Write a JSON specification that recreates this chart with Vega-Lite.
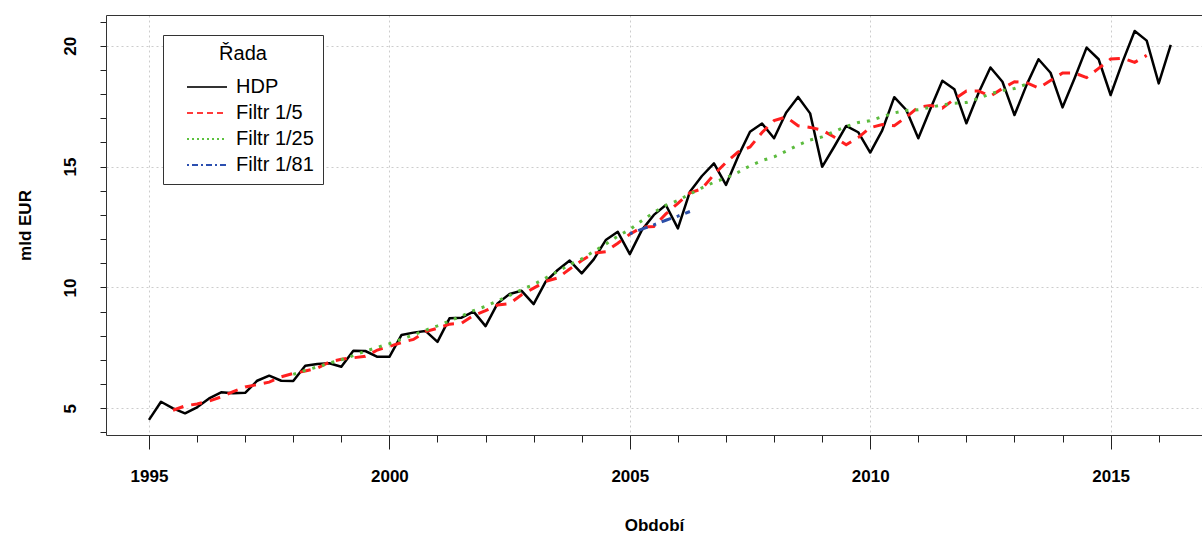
{
  "$schema": "https://vega.github.io/schema/vega-lite/v6.json",
  "width": 1096,
  "height": 420,
  "autosize": "none",
  "padding": {"left": 106, "top": 15, "right": 0, "bottom": 98},
  "config": {
    "font": "Liberation Sans",
    "view": {"stroke": null},
    "axis": {"labelColor": "#000", "titleColor": "#000", "domainColor": "#333", "tickColor": "#222", "labelOverlap": false}
  },
  "data": {
    "values": [
      {"rada": "HDP", "obdobi": 1995, "hodnota": 4.52},
      {"rada": "HDP", "obdobi": 1995.25, "hodnota": 5.27},
      {"rada": "HDP", "obdobi": 1995.5, "hodnota": 5.0},
      {"rada": "HDP", "obdobi": 1995.75, "hodnota": 4.79},
      {"rada": "HDP", "obdobi": 1996, "hodnota": 5.04},
      {"rada": "HDP", "obdobi": 1996.25, "hodnota": 5.41},
      {"rada": "HDP", "obdobi": 1996.5, "hodnota": 5.66},
      {"rada": "HDP", "obdobi": 1996.75, "hodnota": 5.62},
      {"rada": "HDP", "obdobi": 1997, "hodnota": 5.64},
      {"rada": "HDP", "obdobi": 1997.25, "hodnota": 6.14},
      {"rada": "HDP", "obdobi": 1997.5, "hodnota": 6.35},
      {"rada": "HDP", "obdobi": 1997.75, "hodnota": 6.14},
      {"rada": "HDP", "obdobi": 1998, "hodnota": 6.13},
      {"rada": "HDP", "obdobi": 1998.25, "hodnota": 6.76},
      {"rada": "HDP", "obdobi": 1998.5, "hodnota": 6.83},
      {"rada": "HDP", "obdobi": 1998.75, "hodnota": 6.86},
      {"rada": "HDP", "obdobi": 1999, "hodnota": 6.72},
      {"rada": "HDP", "obdobi": 1999.25, "hodnota": 7.38},
      {"rada": "HDP", "obdobi": 1999.5, "hodnota": 7.37},
      {"rada": "HDP", "obdobi": 1999.75, "hodnota": 7.13},
      {"rada": "HDP", "obdobi": 2000, "hodnota": 7.13},
      {"rada": "HDP", "obdobi": 2000.25, "hodnota": 8.03},
      {"rada": "HDP", "obdobi": 2000.5, "hodnota": 8.13},
      {"rada": "HDP", "obdobi": 2000.75, "hodnota": 8.2},
      {"rada": "HDP", "obdobi": 2001, "hodnota": 7.75},
      {"rada": "HDP", "obdobi": 2001.25, "hodnota": 8.72},
      {"rada": "HDP", "obdobi": 2001.5, "hodnota": 8.75},
      {"rada": "HDP", "obdobi": 2001.75, "hodnota": 9.0},
      {"rada": "HDP", "obdobi": 2002, "hodnota": 8.4},
      {"rada": "HDP", "obdobi": 2002.25, "hodnota": 9.34},
      {"rada": "HDP", "obdobi": 2002.5, "hodnota": 9.73},
      {"rada": "HDP", "obdobi": 2002.75, "hodnota": 9.86},
      {"rada": "HDP", "obdobi": 2003, "hodnota": 9.31},
      {"rada": "HDP", "obdobi": 2003.25, "hodnota": 10.24},
      {"rada": "HDP", "obdobi": 2003.5, "hodnota": 10.72},
      {"rada": "HDP", "obdobi": 2003.75, "hodnota": 11.11},
      {"rada": "HDP", "obdobi": 2004, "hodnota": 10.58},
      {"rada": "HDP", "obdobi": 2004.25, "hodnota": 11.16},
      {"rada": "HDP", "obdobi": 2004.5, "hodnota": 11.96},
      {"rada": "HDP", "obdobi": 2004.75, "hodnota": 12.3},
      {"rada": "HDP", "obdobi": 2005, "hodnota": 11.38},
      {"rada": "HDP", "obdobi": 2005.25, "hodnota": 12.37},
      {"rada": "HDP", "obdobi": 2005.5, "hodnota": 13.0},
      {"rada": "HDP", "obdobi": 2005.75, "hodnota": 13.41},
      {"rada": "HDP", "obdobi": 2006, "hodnota": 12.44},
      {"rada": "HDP", "obdobi": 2006.25, "hodnota": 13.96},
      {"rada": "HDP", "obdobi": 2006.5, "hodnota": 14.61},
      {"rada": "HDP", "obdobi": 2006.75, "hodnota": 15.13},
      {"rada": "HDP", "obdobi": 2007, "hodnota": 14.24},
      {"rada": "HDP", "obdobi": 2007.25, "hodnota": 15.41},
      {"rada": "HDP", "obdobi": 2007.5, "hodnota": 16.44},
      {"rada": "HDP", "obdobi": 2007.75, "hodnota": 16.78},
      {"rada": "HDP", "obdobi": 2008, "hodnota": 16.17},
      {"rada": "HDP", "obdobi": 2008.25, "hodnota": 17.23},
      {"rada": "HDP", "obdobi": 2008.5, "hodnota": 17.88},
      {"rada": "HDP", "obdobi": 2008.75, "hodnota": 17.2},
      {"rada": "HDP", "obdobi": 2009, "hodnota": 14.99},
      {"rada": "HDP", "obdobi": 2009.25, "hodnota": 15.82},
      {"rada": "HDP", "obdobi": 2009.5, "hodnota": 16.68},
      {"rada": "HDP", "obdobi": 2009.75, "hodnota": 16.42},
      {"rada": "HDP", "obdobi": 2010, "hodnota": 15.58},
      {"rada": "HDP", "obdobi": 2010.25, "hodnota": 16.5},
      {"rada": "HDP", "obdobi": 2010.5, "hodnota": 17.87},
      {"rada": "HDP", "obdobi": 2010.75, "hodnota": 17.34},
      {"rada": "HDP", "obdobi": 2011, "hodnota": 16.17},
      {"rada": "HDP", "obdobi": 2011.25, "hodnota": 17.38},
      {"rada": "HDP", "obdobi": 2011.5, "hodnota": 18.55},
      {"rada": "HDP", "obdobi": 2011.75, "hodnota": 18.2},
      {"rada": "HDP", "obdobi": 2012, "hodnota": 16.79},
      {"rada": "HDP", "obdobi": 2012.25, "hodnota": 18.03},
      {"rada": "HDP", "obdobi": 2012.5, "hodnota": 19.1},
      {"rada": "HDP", "obdobi": 2012.75, "hodnota": 18.51},
      {"rada": "HDP", "obdobi": 2013, "hodnota": 17.13},
      {"rada": "HDP", "obdobi": 2013.25, "hodnota": 18.37},
      {"rada": "HDP", "obdobi": 2013.5, "hodnota": 19.44},
      {"rada": "HDP", "obdobi": 2013.75, "hodnota": 18.88},
      {"rada": "HDP", "obdobi": 2014, "hodnota": 17.45},
      {"rada": "HDP", "obdobi": 2014.25, "hodnota": 18.65},
      {"rada": "HDP", "obdobi": 2014.5, "hodnota": 19.92},
      {"rada": "HDP", "obdobi": 2014.75, "hodnota": 19.44},
      {"rada": "HDP", "obdobi": 2015, "hodnota": 17.96},
      {"rada": "HDP", "obdobi": 2015.25, "hodnota": 19.34},
      {"rada": "HDP", "obdobi": 2015.5, "hodnota": 20.61},
      {"rada": "HDP", "obdobi": 2015.75, "hodnota": 20.21},
      {"rada": "HDP", "obdobi": 2016, "hodnota": 18.44},
      {"rada": "HDP", "obdobi": 2016.25, "hodnota": 20.03},

      {"rada": "Filtr 1/5", "obdobi": 1995.5, "hodnota": 4.92},
      {"rada": "Filtr 1/5", "obdobi": 1995.75, "hodnota": 5.1},
      {"rada": "Filtr 1/5", "obdobi": 1996, "hodnota": 5.18},
      {"rada": "Filtr 1/5", "obdobi": 1996.25, "hodnota": 5.3},
      {"rada": "Filtr 1/5", "obdobi": 1996.5, "hodnota": 5.47},
      {"rada": "Filtr 1/5", "obdobi": 1996.75, "hodnota": 5.69},
      {"rada": "Filtr 1/5", "obdobi": 1997, "hodnota": 5.88},
      {"rada": "Filtr 1/5", "obdobi": 1997.25, "hodnota": 5.98},
      {"rada": "Filtr 1/5", "obdobi": 1997.5, "hodnota": 6.08},
      {"rada": "Filtr 1/5", "obdobi": 1997.75, "hodnota": 6.3},
      {"rada": "Filtr 1/5", "obdobi": 1998, "hodnota": 6.44},
      {"rada": "Filtr 1/5", "obdobi": 1998.25, "hodnota": 6.54},
      {"rada": "Filtr 1/5", "obdobi": 1998.5, "hodnota": 6.66},
      {"rada": "Filtr 1/5", "obdobi": 1998.75, "hodnota": 6.91},
      {"rada": "Filtr 1/5", "obdobi": 1999, "hodnota": 7.03},
      {"rada": "Filtr 1/5", "obdobi": 1999.25, "hodnota": 7.09},
      {"rada": "Filtr 1/5", "obdobi": 1999.5, "hodnota": 7.15},
      {"rada": "Filtr 1/5", "obdobi": 1999.75, "hodnota": 7.41},
      {"rada": "Filtr 1/5", "obdobi": 2000, "hodnota": 7.56},
      {"rada": "Filtr 1/5", "obdobi": 2000.25, "hodnota": 7.72},
      {"rada": "Filtr 1/5", "obdobi": 2000.5, "hodnota": 7.85},
      {"rada": "Filtr 1/5", "obdobi": 2000.75, "hodnota": 8.17},
      {"rada": "Filtr 1/5", "obdobi": 2001, "hodnota": 8.31},
      {"rada": "Filtr 1/5", "obdobi": 2001.25, "hodnota": 8.48},
      {"rada": "Filtr 1/5", "obdobi": 2001.5, "hodnota": 8.52},
      {"rada": "Filtr 1/5", "obdobi": 2001.75, "hodnota": 8.84},
      {"rada": "Filtr 1/5", "obdobi": 2002, "hodnota": 9.04},
      {"rada": "Filtr 1/5", "obdobi": 2002.25, "hodnota": 9.27},
      {"rada": "Filtr 1/5", "obdobi": 2002.5, "hodnota": 9.33},
      {"rada": "Filtr 1/5", "obdobi": 2002.75, "hodnota": 9.7},
      {"rada": "Filtr 1/5", "obdobi": 2003, "hodnota": 9.97},
      {"rada": "Filtr 1/5", "obdobi": 2003.25, "hodnota": 10.25},
      {"rada": "Filtr 1/5", "obdobi": 2003.5, "hodnota": 10.39},
      {"rada": "Filtr 1/5", "obdobi": 2003.75, "hodnota": 10.76},
      {"rada": "Filtr 1/5", "obdobi": 2004, "hodnota": 11.11},
      {"rada": "Filtr 1/5", "obdobi": 2004.25, "hodnota": 11.42},
      {"rada": "Filtr 1/5", "obdobi": 2004.5, "hodnota": 11.48},
      {"rada": "Filtr 1/5", "obdobi": 2004.75, "hodnota": 11.83},
      {"rada": "Filtr 1/5", "obdobi": 2005, "hodnota": 12.2},
      {"rada": "Filtr 1/5", "obdobi": 2005.25, "hodnota": 12.49},
      {"rada": "Filtr 1/5", "obdobi": 2005.5, "hodnota": 12.52},
      {"rada": "Filtr 1/5", "obdobi": 2005.75, "hodnota": 13.04},
      {"rada": "Filtr 1/5", "obdobi": 2006, "hodnota": 13.48},
      {"rada": "Filtr 1/5", "obdobi": 2006.25, "hodnota": 13.91},
      {"rada": "Filtr 1/5", "obdobi": 2006.5, "hodnota": 14.08},
      {"rada": "Filtr 1/5", "obdobi": 2006.75, "hodnota": 14.67},
      {"rada": "Filtr 1/5", "obdobi": 2007, "hodnota": 15.17},
      {"rada": "Filtr 1/5", "obdobi": 2007.25, "hodnota": 15.6},
      {"rada": "Filtr 1/5", "obdobi": 2007.5, "hodnota": 15.81},
      {"rada": "Filtr 1/5", "obdobi": 2007.75, "hodnota": 16.41},
      {"rada": "Filtr 1/5", "obdobi": 2008, "hodnota": 16.9},
      {"rada": "Filtr 1/5", "obdobi": 2008.25, "hodnota": 17.05},
      {"rada": "Filtr 1/5", "obdobi": 2008.5, "hodnota": 16.69},
      {"rada": "Filtr 1/5", "obdobi": 2008.75, "hodnota": 16.62},
      {"rada": "Filtr 1/5", "obdobi": 2009, "hodnota": 16.51},
      {"rada": "Filtr 1/5", "obdobi": 2009.25, "hodnota": 16.22},
      {"rada": "Filtr 1/5", "obdobi": 2009.5, "hodnota": 15.9},
      {"rada": "Filtr 1/5", "obdobi": 2009.75, "hodnota": 16.2},
      {"rada": "Filtr 1/5", "obdobi": 2010, "hodnota": 16.61},
      {"rada": "Filtr 1/5", "obdobi": 2010.25, "hodnota": 16.74},
      {"rada": "Filtr 1/5", "obdobi": 2010.5, "hodnota": 16.69},
      {"rada": "Filtr 1/5", "obdobi": 2010.75, "hodnota": 17.05},
      {"rada": "Filtr 1/5", "obdobi": 2011, "hodnota": 17.46},
      {"rada": "Filtr 1/5", "obdobi": 2011.25, "hodnota": 17.53},
      {"rada": "Filtr 1/5", "obdobi": 2011.5, "hodnota": 17.42},
      {"rada": "Filtr 1/5", "obdobi": 2011.75, "hodnota": 17.79},
      {"rada": "Filtr 1/5", "obdobi": 2012, "hodnota": 18.13},
      {"rada": "Filtr 1/5", "obdobi": 2012.25, "hodnota": 18.13},
      {"rada": "Filtr 1/5", "obdobi": 2012.5, "hodnota": 17.91},
      {"rada": "Filtr 1/5", "obdobi": 2012.75, "hodnota": 18.23},
      {"rada": "Filtr 1/5", "obdobi": 2013, "hodnota": 18.51},
      {"rada": "Filtr 1/5", "obdobi": 2013.25, "hodnota": 18.47},
      {"rada": "Filtr 1/5", "obdobi": 2013.5, "hodnota": 18.25},
      {"rada": "Filtr 1/5", "obdobi": 2013.75, "hodnota": 18.56},
      {"rada": "Filtr 1/5", "obdobi": 2014, "hodnota": 18.87},
      {"rada": "Filtr 1/5", "obdobi": 2014.25, "hodnota": 18.87},
      {"rada": "Filtr 1/5", "obdobi": 2014.5, "hodnota": 18.68},
      {"rada": "Filtr 1/5", "obdobi": 2014.75, "hodnota": 19.06},
      {"rada": "Filtr 1/5", "obdobi": 2015, "hodnota": 19.45},
      {"rada": "Filtr 1/5", "obdobi": 2015.25, "hodnota": 19.48},
      {"rada": "Filtr 1/5", "obdobi": 2015.5, "hodnota": 19.31},
      {"rada": "Filtr 1/5", "obdobi": 2015.75, "hodnota": 19.6},

      {"rada": "Filtr 1/25", "obdobi": 1998, "hodnota": 6.4},
      {"rada": "Filtr 1/25", "obdobi": 1998.25, "hodnota": 6.57},
      {"rada": "Filtr 1/25", "obdobi": 1998.5, "hodnota": 6.71},
      {"rada": "Filtr 1/25", "obdobi": 1998.75, "hodnota": 6.87},
      {"rada": "Filtr 1/25", "obdobi": 1999, "hodnota": 7.01},
      {"rada": "Filtr 1/25", "obdobi": 1999.25, "hodnota": 7.18},
      {"rada": "Filtr 1/25", "obdobi": 1999.5, "hodnota": 7.36},
      {"rada": "Filtr 1/25", "obdobi": 1999.75, "hodnota": 7.52},
      {"rada": "Filtr 1/25", "obdobi": 2000, "hodnota": 7.67},
      {"rada": "Filtr 1/25", "obdobi": 2000.25, "hodnota": 7.86},
      {"rada": "Filtr 1/25", "obdobi": 2000.5, "hodnota": 8.04},
      {"rada": "Filtr 1/25", "obdobi": 2000.75, "hodnota": 8.23},
      {"rada": "Filtr 1/25", "obdobi": 2001, "hodnota": 8.41},
      {"rada": "Filtr 1/25", "obdobi": 2001.25, "hodnota": 8.61},
      {"rada": "Filtr 1/25", "obdobi": 2001.5, "hodnota": 8.82},
      {"rada": "Filtr 1/25", "obdobi": 2001.75, "hodnota": 9.04},
      {"rada": "Filtr 1/25", "obdobi": 2002, "hodnota": 9.22},
      {"rada": "Filtr 1/25", "obdobi": 2002.25, "hodnota": 9.44},
      {"rada": "Filtr 1/25", "obdobi": 2002.5, "hodnota": 9.67},
      {"rada": "Filtr 1/25", "obdobi": 2002.75, "hodnota": 9.91},
      {"rada": "Filtr 1/25", "obdobi": 2003, "hodnota": 10.12},
      {"rada": "Filtr 1/25", "obdobi": 2003.25, "hodnota": 10.39},
      {"rada": "Filtr 1/25", "obdobi": 2003.5, "hodnota": 10.66},
      {"rada": "Filtr 1/25", "obdobi": 2003.75, "hodnota": 10.94},
      {"rada": "Filtr 1/25", "obdobi": 2004, "hodnota": 11.18},
      {"rada": "Filtr 1/25", "obdobi": 2004.25, "hodnota": 11.49},
      {"rada": "Filtr 1/25", "obdobi": 2004.5, "hodnota": 11.79},
      {"rada": "Filtr 1/25", "obdobi": 2004.75, "hodnota": 12.12},
      {"rada": "Filtr 1/25", "obdobi": 2005, "hodnota": 12.4},
      {"rada": "Filtr 1/25", "obdobi": 2005.25, "hodnota": 12.76},
      {"rada": "Filtr 1/25", "obdobi": 2005.5, "hodnota": 13.1},
      {"rada": "Filtr 1/25", "obdobi": 2005.75, "hodnota": 13.4},
      {"rada": "Filtr 1/25", "obdobi": 2006, "hodnota": 13.6},
      {"rada": "Filtr 1/25", "obdobi": 2006.25, "hodnota": 13.86},
      {"rada": "Filtr 1/25", "obdobi": 2006.5, "hodnota": 14.12},
      {"rada": "Filtr 1/25", "obdobi": 2006.75, "hodnota": 14.35},
      {"rada": "Filtr 1/25", "obdobi": 2007, "hodnota": 14.53},
      {"rada": "Filtr 1/25", "obdobi": 2007.25, "hodnota": 14.76},
      {"rada": "Filtr 1/25", "obdobi": 2007.5, "hodnota": 15.03},
      {"rada": "Filtr 1/25", "obdobi": 2007.75, "hodnota": 15.25},
      {"rada": "Filtr 1/25", "obdobi": 2008, "hodnota": 15.4},
      {"rada": "Filtr 1/25", "obdobi": 2008.25, "hodnota": 15.64},
      {"rada": "Filtr 1/25", "obdobi": 2008.5, "hodnota": 15.89},
      {"rada": "Filtr 1/25", "obdobi": 2008.75, "hodnota": 16.1},
      {"rada": "Filtr 1/25", "obdobi": 2009, "hodnota": 16.23},
      {"rada": "Filtr 1/25", "obdobi": 2009.25, "hodnota": 16.45},
      {"rada": "Filtr 1/25", "obdobi": 2009.5, "hodnota": 16.66},
      {"rada": "Filtr 1/25", "obdobi": 2009.75, "hodnota": 16.82},
      {"rada": "Filtr 1/25", "obdobi": 2010, "hodnota": 16.9},
      {"rada": "Filtr 1/25", "obdobi": 2010.25, "hodnota": 17.06},
      {"rada": "Filtr 1/25", "obdobi": 2010.5, "hodnota": 17.22},
      {"rada": "Filtr 1/25", "obdobi": 2010.75, "hodnota": 17.32},
      {"rada": "Filtr 1/25", "obdobi": 2011, "hodnota": 17.35},
      {"rada": "Filtr 1/25", "obdobi": 2011.25, "hodnota": 17.45},
      {"rada": "Filtr 1/25", "obdobi": 2011.5, "hodnota": 17.55},
      {"rada": "Filtr 1/25", "obdobi": 2011.75, "hodnota": 17.62},
      {"rada": "Filtr 1/25", "obdobi": 2012, "hodnota": 17.65},
      {"rada": "Filtr 1/25", "obdobi": 2012.25, "hodnota": 17.82},
      {"rada": "Filtr 1/25", "obdobi": 2012.5, "hodnota": 18.01},
      {"rada": "Filtr 1/25", "obdobi": 2012.75, "hodnota": 18.15},
      {"rada": "Filtr 1/25", "obdobi": 2013, "hodnota": 18.23},
      {"rada": "Filtr 1/25", "obdobi": 2013.25, "hodnota": 18.41},

      {"rada": "Filtr 1/81", "obdobi": 2005, "hodnota": 12.22},
      {"rada": "Filtr 1/81", "obdobi": 2005.25, "hodnota": 12.41},
      {"rada": "Filtr 1/81", "obdobi": 2005.5, "hodnota": 12.59},
      {"rada": "Filtr 1/81", "obdobi": 2005.75, "hodnota": 12.78},
      {"rada": "Filtr 1/81", "obdobi": 2006, "hodnota": 12.95},
      {"rada": "Filtr 1/81", "obdobi": 2006.25, "hodnota": 13.14}
    ]
  },
  "resolve": {"axis": {"x": "independent", "y": "independent"}},
  "layer": [
    {
      "transform": [{"filter": "datum.rada === 'HDP'"}],
      "mark": {"type": "line", "color": "#000000", "strokeWidth": 2.5, "strokeJoin": "round"},
      "encoding": {
        "x": {
          "field": "obdobi", "type": "quantitative", "title": "Období",
          "scale": {"domain": [1994.106, 2016.9], "nice": false, "zero": false},
          "axis": {
            "values": [1995, 1996, 1997, 1998, 1999, 2000, 2001, 2002, 2003, 2004, 2005, 2006, 2007, 2008, 2009, 2010, 2011, 2012, 2013, 2014, 2015, 2016],
            "format": "d",
            "labelExpr": "datum.value % 5 === 0 ? datum.label : ''",
            "labelFontSize": 17, "labelFontWeight": "bold", "labelPadding": 19,
            "labelFlush": false, "labelOverlap": false,
            "tickSize": {"condition": {"test": "datum.value % 5 === 0", "value": 14}, "value": 7},
            "tickWidth": 1,
            "grid": true,
            "gridColor": {"condition": {"test": "datum.value % 5 === 0", "value": "#cccccc"}, "value": "transparent"},
            "gridDash": [2, 3],
            "gridWidth": 1,
            "titleFontSize": 17, "titleFontWeight": "bold", "titlePadding": 33
          }
        },
        "y": {
          "field": "hodnota", "type": "quantitative", "title": "mld EUR",
          "scale": {"domain": [3.895, 21.27], "nice": false, "zero": false},
          "axis": {
            "values": [4, 5, 6, 7, 8, 9, 10, 11, 12, 13, 14, 15, 16, 17, 18, 19, 20, 21],
            "format": "d",
            "labelExpr": "datum.value % 5 === 0 ? datum.label : ''",
            "labelAngle": 270, "labelAlign": "center", "labelBaseline": "bottom",
            "labelFontSize": 17, "labelFontWeight": "bold", "labelPadding": 21,
            "labelFlush": false, "labelOverlap": false,
            "tickSize": 6, "tickWidth": 1,
            "grid": true,
            "gridColor": {"condition": {"test": "datum.value % 5 === 0", "value": "#cccccc"}, "value": "transparent"},
            "gridDash": [2, 3],
            "gridWidth": 1,
            "titleFontSize": 17, "titleFontWeight": "bold", "titlePadding": 27
          }
        }
      }
    },
    {
      "transform": [{"filter": "datum.rada === 'Filtr 1/5'"}],
      "mark": {"type": "line", "color": "#ff1f1f", "strokeWidth": 3, "strokeDash": [11, 8]},
      "encoding": {
        "x": {"field": "obdobi", "type": "quantitative", "axis": null},
        "y": {"field": "hodnota", "type": "quantitative", "axis": null}
      }
    },
    {
      "transform": [{"filter": "datum.rada === 'Filtr 1/25'"}],
      "mark": {"type": "line", "color": "#5cbb3e", "strokeWidth": 3, "strokeDash": [3, 7]},
      "encoding": {
        "x": {"field": "obdobi", "type": "quantitative", "axis": null},
        "y": {"field": "hodnota", "type": "quantitative", "axis": null}
      }
    },
    {
      "transform": [{"filter": "datum.rada === 'Filtr 1/81'"}],
      "mark": {"type": "line", "color": "#2b4fa8", "strokeWidth": 3, "strokeDash": [3, 6, 10, 6]},
      "encoding": {
        "x": {"field": "obdobi", "type": "quantitative", "axis": null},
        "y": {"field": "hodnota", "type": "quantitative", "axis": null}
      }
    },
    {
      "transform": [{"filter": "datum.obdobi === 2005"}],
      "mark": {"type": "line", "strokeWidth": 2},
      "encoding": {
        "x": {"field": "obdobi", "type": "quantitative", "axis": null},
        "y": {"field": "hodnota", "type": "quantitative", "axis": null},
        "color": {
          "field": "rada", "type": "nominal", "title": "Řada",
          "scale": {"domain": ["HDP", "Filtr 1/5", "Filtr 1/25", "Filtr 1/81"], "range": ["#333333", "#ff3b3b", "#5cc23e", "#2b4fb0"]},
          "legend": {
            "orient": "none", "legendX": 57, "legendY": 20,
            "strokeColor": "#333333", "fillColor": "#ffffff", "padding": 9,
            "symbolType": "M-4,0H4", "symbolSize": 100, "symbolStrokeWidth": 2, "symbolOffset": 25,
            "labelOffset": 19, "labelFontSize": 20, "labelColor": "#000000", "labelFont": "Liberation Sans",
            "titleFontSize": 20, "titleFontWeight": "normal", "titleColor": "#000000", "titleFont": "Liberation Sans",
            "titleAnchor": "middle", "titlePadding": 13, "rowPadding": 6
          }
        },
        "strokeDash": {
          "field": "rada", "type": "nominal", "title": "Řada",
          "scale": {"domain": ["HDP", "Filtr 1/5", "Filtr 1/25", "Filtr 1/81"], "range": [[1, 0], [6, 4], [2, 3], [2, 3, 6, 3]]}
        }
      }
    },
    {
      "transform": [{"filter": "datum.rada === 'HDP'"}],
      "mark": {"type": "line", "opacity": 0},
      "encoding": {
        "x": {
          "field": "obdobi", "type": "quantitative",
          "axis": {"orient": "top", "title": null, "labels": false, "ticks": false, "grid": false, "domain": true, "domainColor": "#333333"}
        },
        "y": {"field": "hodnota", "type": "quantitative", "axis": null}
      }
    }
  ]
}
